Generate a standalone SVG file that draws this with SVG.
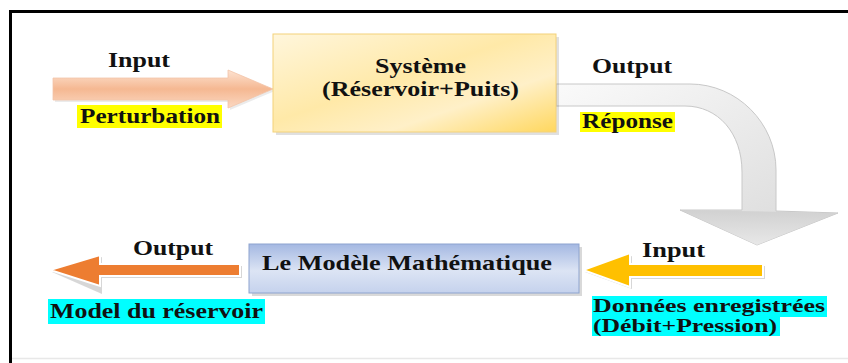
<svg xmlns="http://www.w3.org/2000/svg" width="848" height="363" viewBox="0 0 848 363">
<defs>
<style>
.t{font-family:"Liberation Serif","Times New Roman",serif;font-weight:bold;fill:#111;}
.f18{font-size:18px;}
.f20{font-size:20px;}
.f21{font-size:21px;}
</style>
<linearGradient id="gPeach" x1="0" y1="0" x2="0" y2="1">
<stop offset="0" stop-color="#fde3d2"/>
<stop offset="0.5" stop-color="#f5b892"/>
<stop offset="1" stop-color="#fbd8c2"/>
</linearGradient>
<linearGradient id="gSys" x1="0" y1="0" x2="1" y2="1">
<stop offset="0" stop-color="#fff6dc"/>
<stop offset="0.45" stop-color="#ffe9a8"/>
<stop offset="0.7" stop-color="#fff0c8"/>
<stop offset="1" stop-color="#ffd75e"/>
</linearGradient>
<linearGradient id="gModel" x1="0" y1="0" x2="0" y2="1">
<stop offset="0" stop-color="#a4b8e2"/>
<stop offset="0.55" stop-color="#dce4f4"/>
<stop offset="1" stop-color="#c5d2ed"/>
</linearGradient>
<linearGradient id="gGray" x1="0" y1="0" x2="1" y2="1">
<stop offset="0" stop-color="#fafafa"/>
<stop offset="1" stop-color="#d8d8d8"/>
</linearGradient>
<linearGradient id="gHead" x1="0" y1="0" x2="0" y2="1">
<stop offset="0" stop-color="#cfcfcf"/>
<stop offset="1" stop-color="#e9e9e9"/>
</linearGradient>
</defs>

<rect x="0" y="0" width="848" height="363" fill="#ffffff"/>

<g id="frame">
<line x1="9" y1="11.5" x2="848" y2="11.5" stroke="#000" stroke-width="3"/>
<line x1="10.5" y1="10" x2="10.5" y2="363" stroke="#000" stroke-width="3"/>
<line x1="12" y1="358.5" x2="848" y2="358.5" stroke="#e8e8e8" stroke-width="1.5"/>
</g>

<g id="connectors">
<g id="arrow-input-top">
<polygon points="55,80 230,80 230,72 275,91 230,110 230,102 55,102" fill="#000" opacity="0.08"/>
<polygon points="53,78 228,78 228,70 273,89 228,108 228,100 53,100" fill="url(#gPeach)" stroke="#f2c4a8" stroke-width="0.8"/>
</g>
<g id="arrow-output-curve">
<path d="M556,84 L690,84 C737,84 776,123 776,170 L776,211 L838,213 L757,245 L680,210 L742,210 L742,172 C742,133 718,106 685,106 L556,106 Z" fill="url(#gGray)" stroke="#c8c8c8" stroke-width="1"/>
<path d="M680,210 L838,213 L757,245 Z" fill="url(#gHead)" opacity="0.9"/>
</g>
<g id="arrow-output-bottom">
<polygon points="242,266 102,266 102,257 52,272 102,294 102,278 242,278" fill="#bdbdbd" opacity="0.6"/>
<polygon points="240,264 100,264 100,255 50,270 100,286 100,276 240,276" fill="#ed7d31" stroke="#ffffff" stroke-width="2"/>
</g>
<g id="arrow-input-bottom">
<polygon points="765,266 632,266 632,256 585,272 632,289 632,279 765,279" fill="#bdbdbd" opacity="0.6"/>
<polygon points="763,264 630,264 630,253 583,270 630,287 630,277 763,277" fill="#ffc000" stroke="#ffffff" stroke-width="2"/>
</g>
</g>

<g id="node-systeme">
<rect x="276" y="37" width="283" height="98" fill="#000" opacity="0.12"/>
<rect x="273" y="34" width="283" height="98" fill="url(#gSys)" stroke="#f3d27a" stroke-width="1"/>
<text class="t f20" x="375" y="73" textLength="91" lengthAdjust="spacingAndGlyphs">Système</text>
<text class="t f20" x="322" y="96" textLength="197" lengthAdjust="spacingAndGlyphs">(Réservoir+Puits)</text>
</g>

<g id="node-modele">
<rect x="252" y="247" width="330" height="49" fill="#000" opacity="0.15"/>
<rect x="249" y="244" width="330" height="49" fill="url(#gModel)" stroke="#8ea4cf" stroke-width="1"/>
<text class="t f21" x="262" y="270" textLength="290" lengthAdjust="spacingAndGlyphs">Le Modèle Mathématique</text>
</g>

<g id="labels">
<text class="t f20" x="108" y="67" textLength="62" lengthAdjust="spacingAndGlyphs">Input</text>
<rect x="77" y="105" width="145" height="23" fill="#ffff00"/>
<text class="t f20" x="80" y="123" textLength="140" lengthAdjust="spacingAndGlyphs">Perturbation</text>

<text class="t f20" x="592" y="73" textLength="80" lengthAdjust="spacingAndGlyphs">Output</text>
<rect x="580" y="112" width="95" height="20" fill="#ffff00"/>
<text class="t f20" x="582" y="128" textLength="91" lengthAdjust="spacingAndGlyphs">Réponse</text>

<text class="t f20" x="133" y="255" textLength="80" lengthAdjust="spacingAndGlyphs">Output</text>
<rect x="48" y="299" width="217" height="25" fill="#00ffff"/>
<text class="t f20" x="50" y="318" textLength="213" lengthAdjust="spacingAndGlyphs">Model du réservoir</text>

<text class="t f20" x="642" y="257" textLength="63" lengthAdjust="spacingAndGlyphs">Input</text>
<rect x="592" y="296" width="235" height="21" fill="#00ffff"/>
<rect x="592" y="317" width="188" height="19" fill="#00ffff"/>
<text class="t f18" x="593" y="312" textLength="232" lengthAdjust="spacingAndGlyphs">Données enregistrées</text>
<text class="t f18" x="593" y="332" textLength="184" lengthAdjust="spacingAndGlyphs">(Débit+Pression)</text>
</g>
</svg>
